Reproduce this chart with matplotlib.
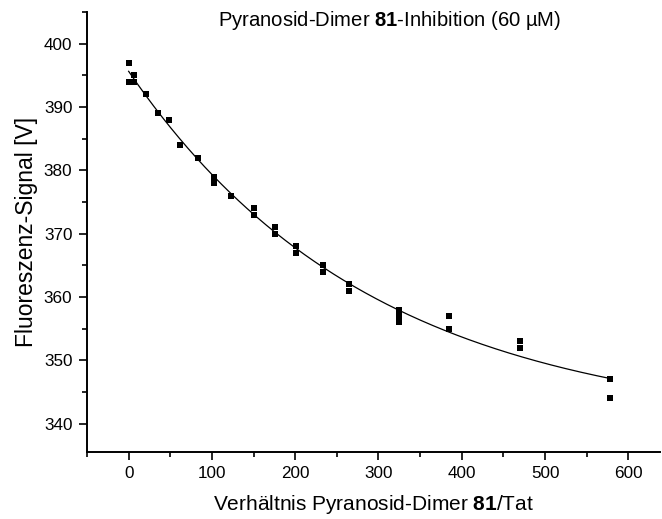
import numpy as np
import matplotlib
matplotlib.use("Agg")
import matplotlib.pyplot as plt
from matplotlib.ticker import MultipleLocator

plt.rcParams['font.family'] = ['Liberation Sans', 'DejaVu Sans']
plt.rcParams['mathtext.fontset'] = 'custom'
plt.rcParams['mathtext.rm'] = 'Liberation Sans'
plt.rcParams['mathtext.bf'] = 'Liberation Sans:bold'

# data
ratio = [0, 0, 7, 7, 21, 35, 49, 62, 83, 103, 103, 123, 150, 150, 176, 176,
         201, 201, 233, 233, 264, 264, 325, 325, 325, 385, 385, 470, 470, 578, 578]
signal = [397, 394, 395, 394, 392, 389, 388, 384, 382, 379, 378, 376, 374, 373,
          371, 370, 368, 367, 365, 364, 362, 361, 358, 357, 356, 357, 355,
          353, 352, 347, 344]

x = np.array(ratio, dtype=float)
y = np.array(signal, dtype=float)

# exponential decay fit y = y0 + A*exp(-x/t), via grid search over t
best = None
for t in np.linspace(50, 2000, 3901):
    M = np.column_stack([np.ones_like(x), np.exp(-x / t)])
    coef, res, *_ = np.linalg.lstsq(M, y, rcond=None)
    r = np.sum((M @ coef - y) ** 2)
    if best is None or r < best[0]:
        best = (r, t, coef)
_, tfit, cfit = best
xf = np.linspace(x.min(), x.max(), 400)
yf = cfit[0] + cfit[1] * np.exp(-xf / tfit)

fig = plt.figure(figsize=(6.62, 5.19), dpi=100)
ax = fig.add_axes([87 / 662, 1 - 452 / 519, (660 - 87) / 662, (452 - 12) / 519])

ax.plot(xf, yf, color='black', lw=0.9)
ax.plot(x, y, 's', color='black', ms=4.5, mew=0)

ax.set_xlim(-50, 638)
ax.set_ylim(335.5, 405)
ax.xaxis.set_major_locator(MultipleLocator(100))
ax.xaxis.set_minor_locator(MultipleLocator(50))
ax.yaxis.set_major_locator(MultipleLocator(10))
ax.yaxis.set_minor_locator(MultipleLocator(5))

for s in ['top', 'right']:
    ax.spines[s].set_visible(False)
for s in ['left', 'bottom']:
    ax.spines[s].set_linewidth(1.4)

ax.tick_params(which='major', direction='out', length=6, width=1.2, labelsize=12.3, pad=4)
ax.tick_params(which='minor', direction='out', length=3.5, width=1.2)
ax.tick_params(axis='y', which='major', pad=4.5)

ax.set_xlabel('Verhältnis Pyranosid-Dimer $\\mathbf{81}$/Tat', fontsize=15, labelpad=9)
ax.set_ylabel('Fluoreszenz-Signal [V]', fontsize=16.5, labelpad=4)

fig.text(390 / 662, 1 - 20 / 519, 'Pyranosid-Dimer $\\mathbf{81}$-Inhibition (60 µM)',
         ha='center', va='center', fontsize=14.6)

fig.savefig('out.png', dpi=100)
